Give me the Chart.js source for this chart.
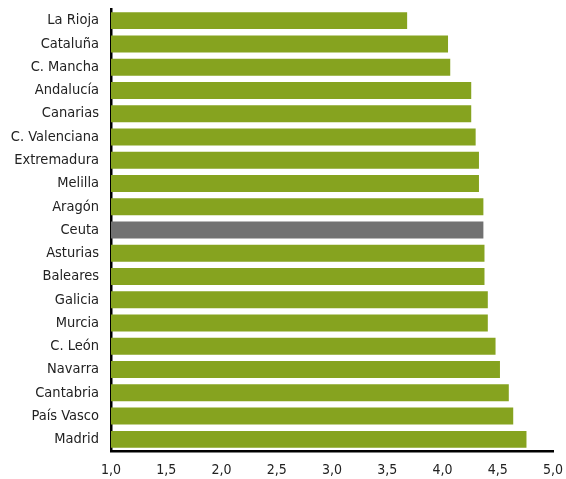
<!DOCTYPE html>
<html>
<head>
<meta charset="utf-8">
<script src="https://cdn.jsdelivr.net/npm/chart.js@4"></script>
<style>
html,body{margin:0;padding:0;background:#fff;}
#wrap{width:566px;height:479px;}
</style>
</head>
<body>
<div id="wrap"><canvas id="c" width="566" height="479"></canvas></div>
<script>
const categories = ["La Rioja","Cataluña","C. Mancha","Andalucía","Canarias","C. Valenciana","Extremadura","Melilla","Aragón","Ceuta","Asturias","Baleares","Galicia","Murcia","C. León","Navarra","Cantabria","País Vasco","Madrid"];
const values = [3.68,4.05,4.07,4.26,4.26,4.30,4.33,4.33,4.37,4.37,4.38,4.38,4.41,4.41,4.48,4.52,4.60,4.64,4.76];
const highlight = "Ceuta";
const xTicks = [1.0,1.5,2.0,2.5,3.0,3.5,4.0,4.5,5.0];

const green = "#86a31f", gray = "#717171";
const colors = categories.map(c => c === highlight ? gray : green);
const FONT = 'DejaVu Sans Condensed';

new Chart(document.getElementById('c'), {
  type: 'bar',
  data: {
    labels: categories,
    datasets: [{ data: values, backgroundColor: colors, borderWidth: 0, categoryPercentage: 1.0, barPercentage: 0.73 }]
  },
  options: {
    indexAxis: 'y',
    responsive: false,
    animation: false,
    layout: { padding: { top: 9, right: 13, left: 0, bottom: 0 } },
    plugins: { legend: { display: false }, tooltip: { enabled: false } },
    scales: {
      x: {
        min: xTicks[0], max: xTicks[xTicks.length-1],
        afterBuildTicks: s => { s.ticks = xTicks.map(v => ({ value: v })); },
        afterFit: s => { s.height = 28; s.paddingLeft = 0; s.paddingRight = 0; },
        grid: { display: false, drawTicks: false },
        border: { display: true, color: '#000', width: 2.5 },
        ticks: { color: '#222', font: { family: FONT, size: 14 }, padding: 11,
          callback: v => Number(v).toFixed(1).replace('.', ',') }
      },
      y: {
        afterFit: s => { s.width = 111; s.paddingTop = 0; s.paddingBottom = 0; },
        grid: { display: false, drawTicks: false },
        border: { display: true, color: '#000', width: 2.5 },
        ticks: { color: '#222', font: { family: FONT, size: 14.5 }, padding: 12, autoSkip: false }
      }
    }
  }
});
</script>
</body>
</html>
